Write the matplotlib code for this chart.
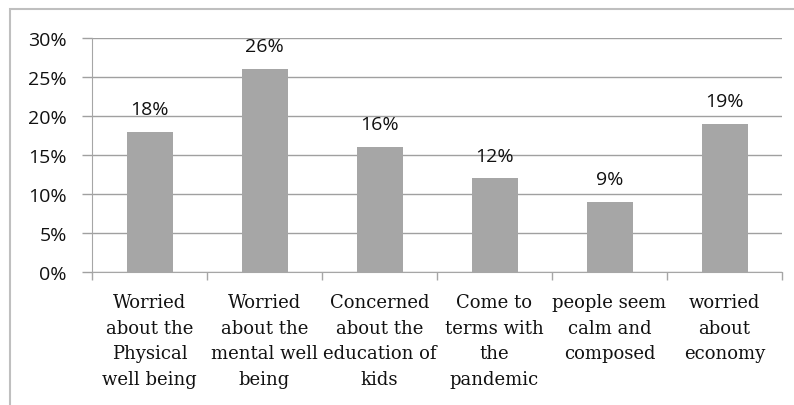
import matplotlib.pyplot as plt
from matplotlib.patches import Rectangle
from matplotlib.ticker import PercentFormatter

# dados
categories = [
    "Worried\nabout the\nPhysical\nwell being",
    "Worried\nabout the\nmental well\nbeing",
    "Concerned\nabout the\neducation of\nkids",
    "Come to\nterms with\nthe\npandemic",
    "people seem\ncalm and\ncomposed",
    "worried\nabout\neconomy",
]
values = [18, 26, 16, 12, 9, 19]
y_ticks = [0, 5, 10, 15, 20, 25, 30]

fig = plt.figure(figsize=(7.94, 4.06), dpi=100)
ax = fig.add_axes([92 / 794, 1 - 273 / 406, (782 - 92) / 794, (273 - 39) / 406])

# moldura cinza em volta do gráfico
fig.patches.append(Rectangle((10 / 794, -0.1), 1.2, 1 - 10 / 406 + 0.1,
                             transform=fig.transFigure, fill=False,
                             edgecolor="#BFBFBF", linewidth=1.5))

x = range(len(categories))
bars = ax.bar(x, values, width=0.4, color="#A6A6A6", zorder=3)

for b, v in zip(bars, values):
    ax.annotate(f"{v}%", (b.get_x() + b.get_width() / 2, v),
                xytext=(0, 10), textcoords="offset points",
                ha="center", va="bottom", fontsize=14, family="Open Sans",
                color="#111111")

ax.set_xlim(-0.5, len(categories) - 0.5)
ax.set_ylim(0, 30)
ax.set_yticks(y_ticks)
ax.yaxis.set_major_formatter(PercentFormatter(decimals=0))
ax.yaxis.grid(True, color="#A0A0A0", linewidth=1)
ax.set_axisbelow(True)

# marcas entre as categorias
ax.set_xticks([i - 0.5 for i in range(len(categories) + 1)])
ax.set_xticklabels([])
ax.tick_params(axis="x", length=6, color="#A6A6A6", width=1)
ax.tick_params(axis="y", length=7, color="#A0A0A0", width=1, pad=11,
               labelsize=14, labelcolor="#111111")
for lbl in ax.get_yticklabels():
    lbl.set_family("Open Sans")

for i, c in enumerate(categories):
    ax.text(i, -0.09, c, transform=ax.get_xaxis_transform(), ha="center",
            va="top", fontsize=13, family="DejaVu Serif",
            linespacing=1.55, color="#111111")

for s in ["top", "right"]:
    ax.spines[s].set_visible(False)
ax.spines["left"].set_color("#A6A6A6")
ax.spines["bottom"].set_color("#A6A6A6")

fig.savefig("out.png", dpi=100)
